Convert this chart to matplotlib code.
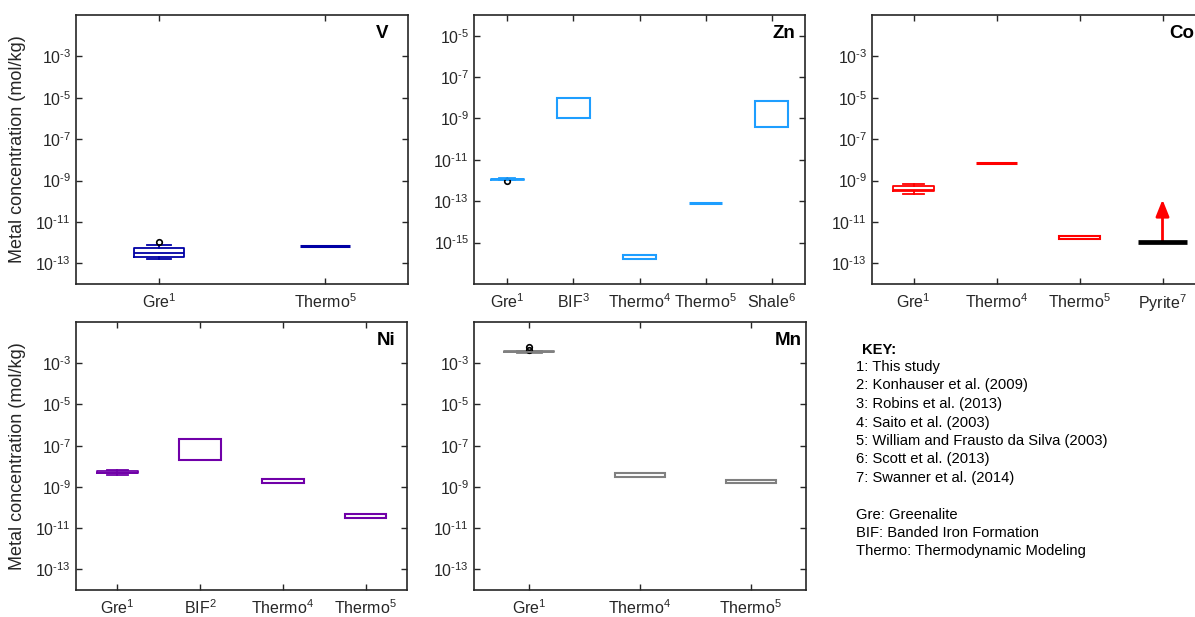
import matplotlib
matplotlib.use("Agg")
import matplotlib.pyplot as plt

plt.rcParams["font.family"] = ["Liberation Sans", "DejaVu Sans"]
plt.rcParams["mathtext.fontset"] = "custom"
plt.rcParams["mathtext.rm"] = "Liberation Sans"
plt.rcParams["mathtext.it"] = "Liberation Sans:italic"
plt.rcParams["mathtext.bf"] = "Liberation Sans:bold"

# ---------------- data (mol/kg) ----------------
# Vanadium
v_categories = ["Gre", "Thermo"]
v_refs = [1, 5]
v_gre = dict(whislo=1.6e-13, q1=1.95e-13, med=3.2e-13, q3=5.2e-13, whishi=7.4e-13, fliers=[1.05e-12])
v_lo = [7.2e-13]
v_hi = [7.2e-13]

# Zinc
zn_categories = ["Gre", "BIF", "Thermo", "Thermo", "Shale"]
zn_refs = [1, 3, 4, 5, 6]
zn_gre = dict(whislo=1.05e-12, q1=1.1e-12, med=1.18e-12, q3=1.25e-12, whishi=1.35e-12, fliers=[9.6e-13])
zn_lo = [1.0e-9, 1.55e-16, 8.5e-14, 4.0e-10]
zn_hi = [1.0e-8, 2.4e-16, 8.5e-14, 7.0e-9]

# Cobalt
co_categories = ["Gre", "Thermo", "Thermo", "Pyrite"]
co_refs = [1, 4, 5, 7]
co_gre = dict(whislo=2.3e-10, q1=3.0e-10, med=3.4e-10, q3=5.6e-10, whishi=6.8e-10, fliers=[])
co_lo = [7.4e-9, 1.45e-12]
co_hi = [7.4e-9, 2.2e-12]
co_pyrite_min = 1.05e-12
co_pyrite_arrow_tip = 1.2e-10

# Nickel
ni_categories = ["Gre", "BIF", "Thermo", "Thermo"]
ni_refs = [1, 2, 4, 5]
ni_gre = dict(whislo=3.9e-9, q1=4.6e-9, med=5.0e-9, q3=5.6e-9, whishi=6.7e-9, fliers=[])
ni_lo = [2.0e-8, 1.5e-9, 3.1e-11]
ni_hi = [2.0e-7, 2.3e-9, 4.7e-11]

# Manganese
mn_categories = ["Gre", "Thermo", "Thermo"]
mn_refs = [1, 4, 5]
mn_gre = dict(whislo=3.3e-3, q1=3.4e-3, med=3.6e-3, q3=3.75e-3, whishi=3.9e-3, fliers=[4.6e-3, 6.2e-3])
mn_lo = [2.95e-9, 1.48e-9]
mn_hi = [4.6e-9, 2.24e-9]

key_title = "KEY:"
key_refs = [
    "1: This study",
    "2: Konhauser et al. (2009)",
    "3: Robins et al. (2013)",
    "4: Saito et al. (2003)",
    "5: William and Frausto da Silva (2003)",
    "6: Scott et al. (2013)",
    "7: Swanner et al. (2014)",
]
key_abbrev = [
    "Gre: Greenalite",
    "BIF: Banded Iron Formation",
    "Thermo: Thermodynamic Modeling",
]

# ---------------- figure ----------------
W, H = 1195, 617
fig = plt.figure(figsize=(W / 100, H / 100), dpi=100)
INK = "#262626"


def px_axes(left, top, right, bottom):
    return fig.add_axes([left / W, 1 - bottom / H, (right - left) / W, (bottom - top) / H])


def exp_label(e):
    # short hyphen in the exponent, as in the printed figure style
    sign = "\u2010" if e < 0 else ""
    return r"$\mathregular{10^{%s%d}}$" % (sign, abs(e))


def draw_panel(ax, categories, refs, gre, lo, hi, color, width, ylim, exps,
               title, title_off, ylabel=False):
    n = len(categories)
    pos = list(range(1, n + 1))
    stats = [dict(gre, label="")]
    ax.bxp(stats, positions=[1], widths=width, capwidths=width / 2,
           showfliers=True, patch_artist=False,
           boxprops=dict(color=color, lw=1.3),
           whiskerprops=dict(color=color, lw=1.3),
           capprops=dict(color=color, lw=1.3),
           medianprops=dict(color=color, lw=1.3),
           flierprops=dict(marker="o", markerfacecolor="none", markeredgecolor="black",
                           markersize=4, markeredgewidth=1.2))
    for x, a, b in zip(pos[1:], lo, hi):
        if a == b:
            ax.hlines(a, x - width / 2, x + width / 2, color=color, lw=2.2)
        else:
            ax.bar(x, b - a, bottom=a, width=width, fill=False, edgecolor=color, lw=1.5)
    ax.set_yscale("log")
    ax.set_ylim(*ylim)
    ax.set_xlim(0.5, n + 0.5)
    ax.set_yticks([10.0 ** e for e in exps])
    ax.set_yticklabels([exp_label(e) for e in exps])
    ax.yaxis.set_minor_locator(plt.NullLocator())
    ax.set_xticks(pos)
    ax.set_xticklabels([r"%s$^{\mathregular{%d}}$" % (c, r) for c, r in zip(categories, refs)])
    ax.tick_params(axis="both", direction="in", length=4, width=1.0, top=True, right=True,
                   colors=INK, labelsize=11.5)
    ax.tick_params(axis="y", pad=3.5)
    ax.tick_params(axis="x", pad=6)
    for s in ax.spines.values():
        s.set_color(INK)
        s.set_linewidth(1.2)
    ax.text(1 - title_off, 0.93, title, transform=ax.transAxes, ha="right", va="center",
            fontsize=13.5, fontweight="bold", color="black")
    if ylabel:
        ax.set_ylabel("Metal concentration (mol/kg)", fontsize=13, color=INK)
        ax.yaxis.set_label_coords(-0.15, 0.5)


odd_exps = [-13, -11, -9, -7, -5, -3]

ax_v = px_axes(76, 15, 408, 284)
draw_panel(ax_v, v_categories, v_refs, v_gre, v_lo, v_hi, "#0000A5", 0.3,
           (1e-14, 1e-1), odd_exps, "V", 20 / 332, ylabel=True)

ax_zn = px_axes(474, 15, 805, 284)
draw_panel(ax_zn, zn_categories, zn_refs, zn_gre, zn_lo, zn_hi, "#1E9EFF", 0.5,
           (1e-17, 1e-4), [-15, -13, -11, -9, -7, -5], "Zn", 10 / 331)

ax_co = px_axes(872, 15, 1204, 284)
draw_panel(ax_co, co_categories, co_refs, co_gre, co_lo, co_hi, "#FF0000", 0.5,
           (1e-14, 1e-1), odd_exps, "Co", 10 / 332)
ax_co.hlines(co_pyrite_min, 4 - 0.29, 4 + 0.29, color="black", lw=3.4, zorder=3)
ax_co.annotate("", xy=(4, co_pyrite_arrow_tip), xytext=(4, co_pyrite_min),
               arrowprops=dict(arrowstyle="-|>,head_length=0.5,head_width=0.2",
                               mutation_scale=20, color="#FF0000", lw=2,
                               shrinkA=0, shrinkB=0), zorder=2)

ax_ni = px_axes(76, 322, 407, 590)
draw_panel(ax_ni, ni_categories, ni_refs, ni_gre, ni_lo, ni_hi, "#7000A8", 0.5,
           (1e-14, 1e-1), odd_exps, "Ni", 12 / 331, ylabel=True)

ax_mn = px_axes(474, 322, 806, 590)
draw_panel(ax_mn, mn_categories, mn_refs, mn_gre, mn_lo, mn_hi, "#808080", 0.45,
           (1e-14, 1e-1), odd_exps, "Mn", 4 / 332)

# ---------------- key ----------------
fig.text(862 / W, 1 - 350 / H, key_title, fontsize=10.6, fontweight="bold", va="center", ha="left")
for i, line in enumerate(key_refs):
    fig.text(856 / W, 1 - (367 + 18.5 * i) / H, line, fontsize=10.6, va="center", ha="left")
for i, line in enumerate(key_abbrev):
    fig.text(856 / W, 1 - (515 + 18.2 * i) / H, line, fontsize=10.6, va="center", ha="left")

fig.savefig("out.png", dpi=100)
